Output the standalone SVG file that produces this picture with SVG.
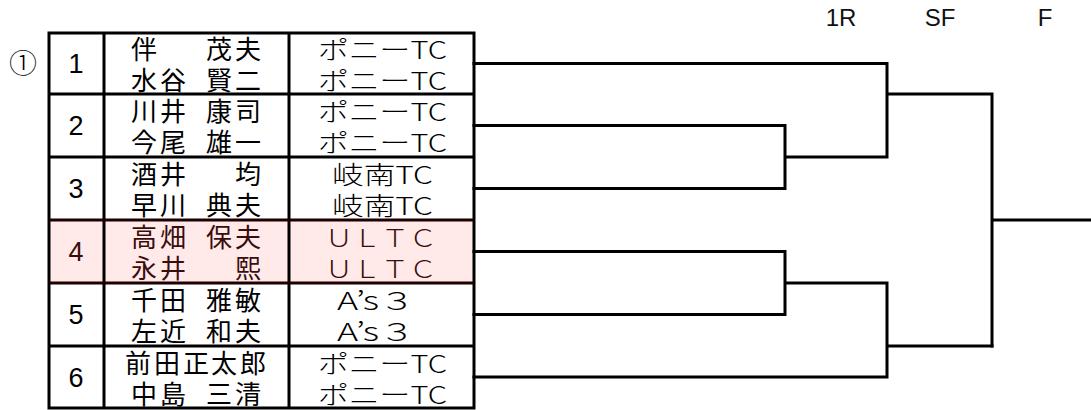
<svg xmlns="http://www.w3.org/2000/svg" width="1091" height="410" viewBox="0 0 1091 410">
<style>
.jp{font-family:"Noto Sans CJK JP","Noto Sans CJK SC",sans-serif;font-size:26px;fill:#000}
.cl{font-family:"Noto Sans CJK JP","Noto Sans CJK SC",sans-serif;font-size:25px;fill:#000;font-weight:300}
.num{font-family:"Liberation Sans",Arial,sans-serif;font-size:27px;fill:#000;text-anchor:middle}
.hdr{font-family:"Liberation Sans",Arial,sans-serif;font-size:24px;fill:#111;text-anchor:middle}
.grid{stroke:#000;stroke-width:3;fill:none}
.br{stroke:#000;stroke-width:3;fill:none;stroke-linecap:square}
.hl{fill:#3a0c0c}
</style>
<rect width="1091" height="410" fill="#fff"/>
<g id="headers">
<text class="hdr" x="841" y="26">1R</text>
<text class="hdr" x="940" y="26">SF</text>
<text class="hdr" x="1045" y="26">F</text>
</g>
<text x="23" y="74" text-anchor="middle" style="font-family:'Noto Sans CJK JP',sans-serif;font-size:28px;font-weight:300;fill:#000">①</text>
<g id="entry4bg"><rect x="49" y="220" width="425" height="63" fill="#ffe9e9"/></g>
<g id="entry1">
<text class="num" x="76" y="73">1</text>
<text class="jp" x="131 206 235" y="59">伴茂夫</text>
<text class="jp" x="131 160 206 235" y="90">水谷賢二</text>
<text class="cl" x="318" y="59" textLength="129" lengthAdjust="spacingAndGlyphs">ポニーTC</text>
<text class="cl" x="318" y="90" textLength="129" lengthAdjust="spacingAndGlyphs">ポニーTC</text>
</g>
<g id="entry2">
<text class="num" x="76" y="135">2</text>
<text class="jp" x="131 160 206 235" y="121">川井康司</text>
<text class="jp" x="131 160 206 235" y="152">今尾雄一</text>
<text class="cl" x="318" y="121" textLength="129" lengthAdjust="spacingAndGlyphs">ポニーTC</text>
<text class="cl" x="318" y="152" textLength="129" lengthAdjust="spacingAndGlyphs">ポニーTC</text>
</g>
<g id="entry3">
<text class="num" x="76" y="198">3</text>
<text class="jp" x="131 160 235" y="184">酒井均</text>
<text class="jp" x="131 160 206 235" y="215">早川典夫</text>
<text class="cl" x="332" y="184" textLength="101" lengthAdjust="spacingAndGlyphs">岐南TC</text>
<text class="cl" x="332" y="215" textLength="101" lengthAdjust="spacingAndGlyphs">岐南TC</text>
</g>
<g id="entry4">
<text class="num hl" x="76" y="261">4</text>
<text class="jp hl" x="131 160 206 235" y="247">高畑保夫</text>
<text class="jp hl" x="131 160 235" y="278">永井熙</text>
<text class="cl hl" x="325" y="247" textLength="112" lengthAdjust="spacingAndGlyphs">ＵＬＴＣ</text>
<text class="cl hl" x="325" y="278" textLength="112" lengthAdjust="spacingAndGlyphs">ＵＬＴＣ</text>
</g>
<g id="entry5">
<text class="num" x="76" y="324">5</text>
<text class="jp" x="131 160 206 235" y="310">千田雅敏</text>
<text class="jp" x="131 160 206 235" y="341">左近和夫</text>
<text class="cl" x="337" y="310" textLength="78" lengthAdjust="spacingAndGlyphs">A’s３</text>
<text class="cl" x="337" y="341" textLength="78" lengthAdjust="spacingAndGlyphs">A’s３</text>
</g>
<g id="entry6">
<text class="num" x="76" y="387">6</text>
<text class="jp" x="125 154 183 211 240" y="373">前田正太郎</text>
<text class="jp" x="131 160 206 235" y="404">中島三清</text>
<text class="cl" x="318" y="373" textLength="129" lengthAdjust="spacingAndGlyphs">ポニーTC</text>
<text class="cl" x="318" y="404" textLength="129" lengthAdjust="spacingAndGlyphs">ポニーTC</text>
</g>
<g id="table-grid">
<rect class="grid" x="49" y="33" width="425" height="375"/>
<path class="grid" d="M104,33V408M289,33V408M49,94H474M49,157H474M49,346H474"/>
<path d="M49,220H474M49,283H474" stroke="#1e0000" stroke-width="3" fill="none"/>
</g>
<g id="connectors">
<path class="br" d="M474,63.5H887V157M474,125.5H785V188.5H474M785,157H887M887,94H992V346M992,220H1091"/>
<path class="br" d="M474,251.5H785V314.5H474M785,283H887V377H474M887,346H992"/>
</g>
</svg>
